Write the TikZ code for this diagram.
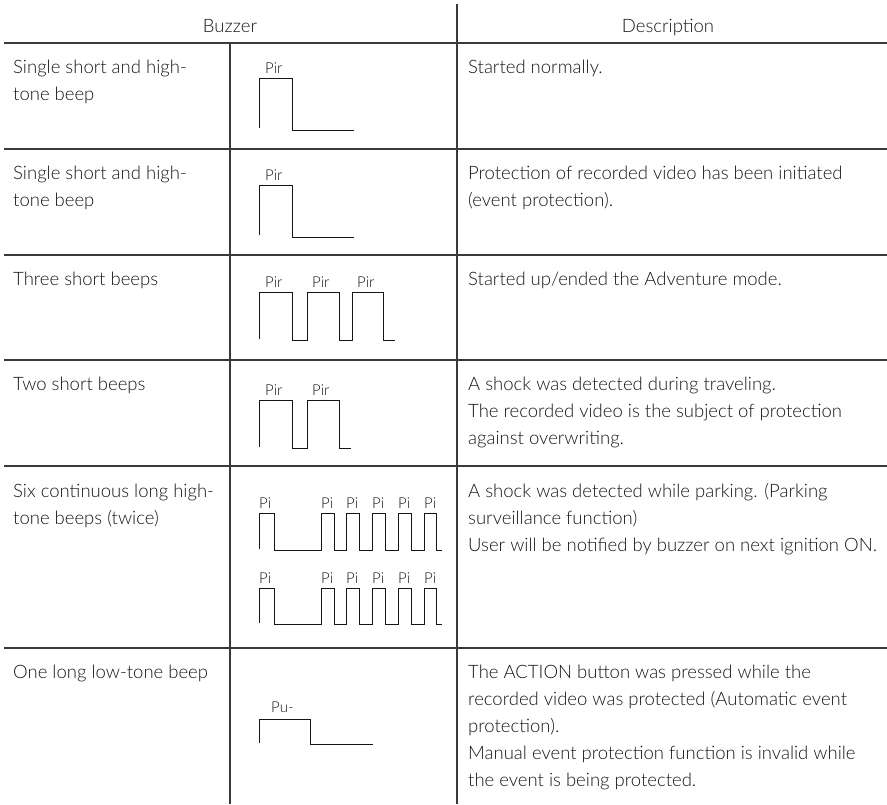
\documentclass[tikz,border=0pt]{standalone}
\usepackage{fontspec}
\setmainfont{Lato}[UprightFont=* Light]
\definecolor{ink}{HTML}{161616}
\definecolor{rule}{HTML}{3A3A3A}
\newcommand{\cell}[1]{\begin{tabular}[t]{@{}l@{}}#1\end{tabular}}
\begin{document}
\begin{tikzpicture}[x=1pt,y=-1pt,
  tline/.style={draw=rule,line width=1.2pt},
  wave/.style={draw=ink,line width=0.9pt},
  body/.style={inner sep=0pt,anchor=base west,text=ink,font=\fontsize{18.5}{27}\selectfont},
  head/.style={inner sep=0pt,anchor=base,text=ink,font=\fontsize{18.5}{27}\selectfont},
  lbl/.style={inner sep=0pt,anchor=base west,text=ink,font=\fontsize{15}{17}\selectfont}]
\useasboundingbox (0,0) rectangle (887,804);
% table rules
\coordinate (vt) at (457,4); \coordinate (vb) at (457,804);
\draw[tline] (vt) -- (vb);
\coordinate (mt) at (230,43); \coordinate (mb) at (230,804);
\draw[tline] (mt) -- (mb);
\foreach \y in {43,149,255,360,466,648}{
  \draw[tline] (4,\y) -- (887,\y);
}
% headers
\node[head] (hb) at (230,32) {Buzzer};
\node[head] (hd) at (668,32) {Description};
% left column
\node[body] (b1) at (13,73) {\cell{Single short and high-\\tone beep}};
\node[body] (b2) at (13,179) {\cell{Single short and high-\\tone beep}};
\node[body] (b3) at (13,285) {Three short beeps};
\node[body] (b4) at (13,390) {Two short beeps};
\node[body] (b5) at (13,497) {\cell{Six continuous long high-\\tone beeps (twice)}};
\node[body] (b6) at (13,678) {One long low-tone beep};
% descriptions
\node[body] (d1) at (468,73) {Started normally.};
\node[body] (d2) at (468,179) {\cell{Protection of recorded video has been initiated\\(event protection).}};
\node[body] (d3) at (468,285) {Started up/ended the Adventure mode.};
\node[body] (d4) at (468,390) {\cell{A shock was detected during traveling.\\The recorded video is the subject of protection\\against overwriting.}};
\node[body] (d5) at (468,497) {\cell{A shock was detected while parking. (Parking\\surveillance function)\\User will be notified by buzzer on next ignition ON.}};
\node[body] (d6) at (468,678) {\cell{The ACTION button was pressed while the\\recorded video was protected (Automatic event\\protection).\\Manual event protection function is invalid while\\the event is being protected.}};
% row 1 waveform
\node[lbl] (p1) at (265,73) {Pir};
\draw[wave] (259,128) |- (292,78) |- (354,130);
% row 2
\node[lbl] (p2) at (265,180) {Pir};
\draw[wave] (259,235) |- (292,185) |- (354,237);
% row 3
\node[lbl] (p3a) at (265,287) {Pir};
\node[lbl] (p3b) at (312,287) {Pir};
\node[lbl] (p3c) at (357,287) {Pir};
\draw[wave] (259,339) |- (292,292) |- (307,340) |- (339,292) |- (352,340) |- (383,292) |- (395,340);
% row 4
\node[lbl] (p4a) at (265,395) {Pir};
\node[lbl] (p4b) at (312,395) {Pir};
\draw[wave] (259,447) |- (292,400) |- (307,448) |- (339,400) |- (351,448);
% row 5 two waveforms
\foreach \t/\b/\l in {513/550/508, 588/624/583}{
  \foreach \x in {259,321,346,372,398,424}{
    \node[lbl] at (\x,\l) {Pi};
  }
  \draw[wave] (259,\b-1) |- (274,\t) |- (321,\b) |- (334,\t) |- (346,\b) |- (359,\t) |- (372,\b) |- (385,\t) |- (398,\b) |- (411,\t) |- (424,\b) |- (436,\t) |- (442,\b);
}
% row 6
\node[lbl] (p6) at (271,712) {Pu-};
\draw[wave] (259,743) |- (310,719) |- (373,744);
\end{tikzpicture}
\end{document}
